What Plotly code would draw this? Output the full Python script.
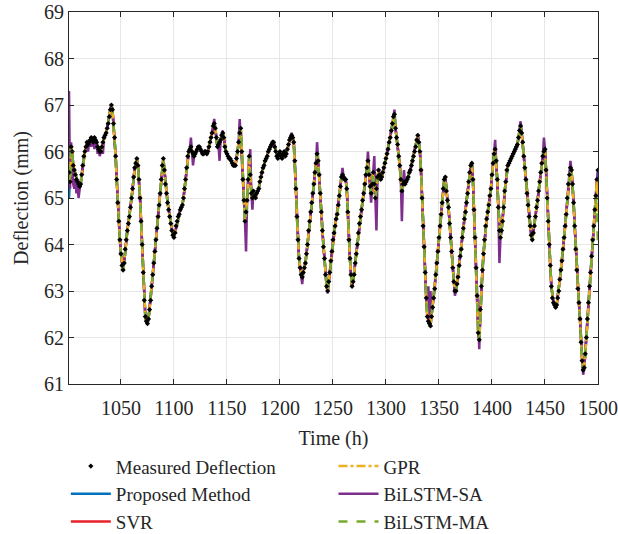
import plotly.graph_objects as go

hours = list(range(1001, 1501))

measured = [
    65.55, 65.35, 66.1, 66.0, 65.7, 65.6, 65.5, 65.4, 65.35, 65.3,
    65.25, 65.3, 65.5, 65.7, 65.9, 66.0, 66.1, 66.2, 66.15, 66.2,
    66.25, 66.3, 66.25, 66.2, 66.3, 66.25, 66.2, 66.1, 66.05, 66.0,
    66.0, 66.1, 66.2, 66.3, 66.35, 66.4, 66.5, 66.6, 66.75, 66.9,
    67.0, 66.9, 66.6, 66.3, 65.9, 65.4, 64.9, 64.5, 64.1, 63.8,
    63.55, 63.45, 63.6, 63.9, 64.1, 64.3, 64.45, 64.6, 64.8, 65.0,
    65.2, 65.45, 65.65, 65.75, 65.85, 65.7, 65.4, 65.0, 64.5, 64.0,
    63.4, 62.8, 62.45, 62.35, 62.3, 62.4, 62.6, 62.8, 63.1, 63.35,
    63.6, 63.85, 64.1, 64.35, 64.6, 64.85, 65.1, 65.4, 65.7, 65.85,
    65.6, 65.3, 65.1, 64.9, 64.75, 64.6, 64.45, 64.3, 64.2, 64.15,
    64.25, 64.4, 64.5, 64.6, 64.65, 64.75, 64.8, 64.85, 65.0, 65.2,
    65.4, 65.65, 65.9, 66.0, 66.05, 66.1, 66.0, 65.95, 65.9, 65.95,
    66.0, 66.05, 66.1, 66.1, 66.05, 66.0, 65.95, 65.95, 66.0, 66.0,
    65.95, 66.0, 66.1, 66.2, 66.3, 66.4, 66.55, 66.6, 66.5, 66.3,
    66.1, 66.15, 66.2, 66.25, 66.35, 66.4, 66.3, 66.1, 66.0, 65.95,
    65.9, 65.85, 65.85, 65.8, 65.75, 65.7, 65.7, 65.7, 65.85, 66.0,
    66.2, 66.4, 66.5, 66.0, 65.4, 64.95, 64.5, 64.7, 64.95, 65.4,
    65.9, 65.5, 65.1, 65.0, 65.15, 65.05, 65.0, 65.1, 65.15, 65.2,
    65.35, 65.45, 65.55, 65.65, 65.7, 65.8, 65.85, 65.9, 66.0, 66.05,
    66.1, 66.15, 66.2, 66.2, 66.1, 66.0, 65.9, 65.85, 65.95, 66.0,
    65.9, 65.85, 65.95, 66.0, 65.9, 65.95, 66.05, 66.15, 66.25, 66.3,
    66.35, 66.3, 66.2, 65.8, 65.2, 64.6, 64.1, 63.7, 63.5, 63.35,
    63.3, 63.4, 63.5, 63.6, 63.8, 64.0, 64.3, 64.5, 64.7, 64.9,
    65.1, 65.3, 65.55, 65.75, 65.95, 65.8, 65.5, 65.1, 64.7, 64.3,
    63.95, 63.7, 63.35, 63.1, 63.0, 63.2, 63.4, 63.65, 63.85, 64.1,
    64.25, 64.4, 64.55, 64.65, 64.85, 65.05, 65.25, 65.45, 65.5, 65.45,
    65.4, 65.4, 65.2, 64.7, 64.1, 63.7, 63.35, 63.1, 63.2, 63.35,
    63.6, 63.8, 64.0, 64.25, 64.45, 64.6, 64.75, 64.95, 65.1, 65.3,
    65.5, 65.65, 65.8, 65.5, 65.25, 65.1, 65.3, 65.55, 65.3, 65.0,
    65.2, 65.45, 65.6, 65.5, 65.4, 65.45, 65.55, 65.65, 65.75, 65.85,
    65.95, 66.05, 66.2, 66.3, 66.45, 66.6, 66.75, 66.8, 66.5, 66.3,
    66.15, 65.9, 65.7, 65.4, 65.15, 65.3, 65.35, 65.3, 65.35, 65.4,
    65.45, 65.55, 65.6, 65.7, 65.8, 65.9, 66.0, 66.1, 66.25, 66.35,
    66.2, 66.0, 65.6, 65.0, 64.4, 63.95, 63.4, 62.85, 62.45, 62.35,
    62.3, 62.25, 62.45, 62.65, 62.85, 63.05, 63.35, 63.6, 63.85, 64.15,
    64.4, 64.65, 64.9, 65.2, 65.4, 65.45, 65.15, 64.95, 64.8, 64.45,
    64.15, 63.85, 63.5, 63.2, 63.0, 63.0, 63.15, 63.3, 63.55, 63.75,
    63.9, 64.15, 64.35, 64.55, 64.7, 64.9, 65.1, 65.35, 65.55, 65.7,
    65.75, 65.4, 64.75, 64.15, 63.5, 62.9, 62.1, 61.95, 62.6, 63.1,
    63.45, 63.8, 64.1, 64.4, 64.55, 64.7, 64.85, 65.05, 65.2, 65.5,
    65.75, 65.95, 66.05, 65.8, 65.4, 64.8, 64.3, 64.15, 64.3, 64.5,
    64.8, 65.15, 65.35, 65.6, 65.7, 65.75, 65.8, 65.85, 65.9, 65.95,
    66.0, 66.05, 66.1, 66.15, 66.3, 66.45, 66.55, 66.4, 66.2, 65.9,
    65.65, 65.4, 65.1, 64.85, 64.6, 64.4, 64.2, 64.1, 64.25, 64.4,
    64.6, 64.8, 64.95, 65.15, 65.35, 65.55, 65.75, 65.9, 66.0, 66.05,
    65.6, 65.0, 64.5, 64.0, 63.55, 63.1, 62.85, 62.75, 62.7, 62.65,
    62.7, 62.85, 63.0, 63.25, 63.45, 63.65, 63.9, 64.15, 64.4, 64.65,
    65.0, 65.3, 65.5, 65.65, 65.6, 65.3, 64.9, 64.4, 63.9, 63.45,
    63.05, 62.75, 62.4, 61.9, 61.5, 61.3, 61.35, 61.65, 62.0, 62.4,
    62.75, 63.1, 63.4, 63.75, 64.1, 64.4, 64.75, 65.05, 65.4, 65.6,
]

# Points where each model visibly departs from the measured curve (hour: value)
proposed_points = {1001: 65.0, 1002: 65.4}
svr_points = {1001: 65.4, 1500: 65.3}
gpr_points = {1001: 65.5, 1500: 64.6}
sa_points = {
    1001: 67.3, 1002: 65.2, 1003: 66.2, 1004: 65.6, 1005: 65.3, 1006: 65.2,
    1007: 65.4, 1008: 65.1, 1009: 65.3, 1010: 65.0, 1011: 65.15,
    1019: 66.0, 1022: 66.1, 1025: 66.05, 1028: 65.95, 1030: 65.9, 1033: 65.95,
    1116: 66.3, 1118: 65.7, 1138: 66.7, 1143: 65.8, 1146: 66.45,
    1162: 66.7, 1163: 66.3, 1168: 63.85, 1172: 66.05, 1174: 64.75,
    1211: 66.4, 1221: 63.15, 1235: 66.2, 1245: 62.95, 1259: 65.65,
    1283: 66.0, 1286: 64.9, 1289: 65.9, 1291: 64.3, 1308: 66.9,
    1315: 64.5, 1317: 65.6, 1339: 62.6, 1340: 63.1, 1341: 62.4,
    1342: 63.0, 1343: 62.5, 1365: 62.9, 1388: 61.75, 1403: 66.25,
    1407: 63.6, 1427: 66.65, 1449: 66.3, 1474: 65.8, 1486: 61.2,
}
ma_points = {1001: 65.6, 1499: 64.6, 1500: 64.0}

x_ticks = [1050, 1100, 1150, 1200, 1250, 1300, 1350, 1400, 1450, 1500]
y_ticks = [61, 62, 63, 64, 65, 66, 67, 68, 69]


def model_series(points):
    return [points.get(h, v) for h, v in zip(hours, measured)]


FONT = "Liberation Serif"
TXT = "#262626"

fig = go.Figure()

lines = [
    ("Proposed Method", proposed_points, "#0072BD", "solid", 2, "legend"),
    ("SVR", svr_points, "#E8202A", "solid", 3, "legend"),
    ("BiLSTM-SA", sa_points, "#7E2F8E", "solid", 5, "legend2"),
    ("GPR", gpr_points, "#EDB120", "dashdot", 4, "legend2"),
    ("BiLSTM-MA", ma_points, "#77AC30", "dash", 6, "legend2"),
]
for name, pts, color, dash, rank, leg in lines:
    fig.add_trace(go.Scatter(
        x=hours, y=model_series(pts), mode="lines", name=name,
        line=dict(color=color, width=2.5, dash=dash),
        legendrank=rank, legend=leg,
    ))

fig.add_trace(go.Scatter(
    x=hours, y=measured, mode="markers", name="Measured Deflection",
    marker=dict(symbol="diamond", size=4, color="black"),
    legendrank=1, legend="legend",
))

axis_common = dict(
    showline=True, linecolor=TXT, linewidth=1, mirror="ticks",
    ticks="inside", ticklen=5, tickcolor=TXT,
    showgrid=True, gridcolor="#e6e6e6", gridwidth=1,
    zeroline=False, automargin=False,
    tickfont=dict(family=FONT, size=20, color=TXT),
    title_font=dict(family=FONT, size=20, color=TXT),
)

fig.update_xaxes(range=[1001, 1500], tickvals=x_ticks, title_text="Time (h)",
                 ticklabelstandoff=6, title_standoff=12, **axis_common)
fig.update_yaxes(range=[61, 69], tickvals=y_ticks, title_text="Deflection (mm)",
                 title_standoff=10, **axis_common)

legend_common = dict(
    xanchor="left", yanchor="top", bgcolor="rgba(0,0,0,0)",
    font=dict(family=FONT, size=19, color=TXT), itemwidth=40,
    tracegroupgap=0, orientation="v",
)

fig.update_layout(
    width=618, height=534,
    margin=dict(l=69, r=20, t=12, b=150, autoexpand=False),
    plot_bgcolor="white", paper_bgcolor="white",
    legend=dict(x=-0.006, y=-0.17, **legend_common),
    legend2=dict(x=0.50, y=-0.17, **legend_common),
    showlegend=True,
)

fig.write_html("out.html")
